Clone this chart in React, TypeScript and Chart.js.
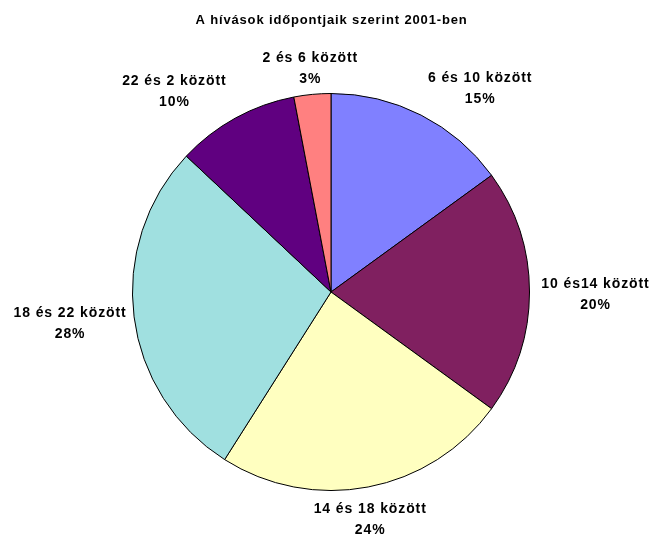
import React, { useEffect, useRef } from "react";
import { Chart, registerables } from "chart.js";

Chart.register(...registerables);

const TITLE = "A hívások időpontjaik szerint 2001-ben";
const categories = [
  "6 és 10 között",
  "10 és14 között",
  "14 és 18 között",
  "18 és 22 között",
  "22 és 2 között",
  "2 és 6 között",
];
const percentages = [15, 20, 24, 28, 10, 3];
const colors = ["#8080FF", "#802060", "#FFFFC0", "#A0E0E0", "#600080", "#FF8080"];
// label nudges relative to the outer point of each slice at its mid angle (layout only)
const labelNudges: [number, number][] = [
  [59, -26],
  [66, 3],
  [2, 33],
  [-64, 6.5],
  [-61, -26],
  [-2, -26],
];

const FAMILY = "'Liberation Sans', Arial, sans-serif";

const labelPlugin = {
  id: "excelLabels",
  afterDraw(chart: any) {
    const ctx = chart.ctx as CanvasRenderingContext2D;
    ctx.save();
    ctx.fillStyle = "#000";
    ctx.textAlign = "center";
    ctx.textBaseline = "middle";
    ctx.font = "bold 13px " + FAMILY;
    (ctx as any).letterSpacing = "0.85px";
    ctx.fillText(TITLE, chart.width / 2 + 7, 20);
    ctx.font = "bold 14px " + FAMILY;
    (ctx as any).letterSpacing = "0.9px";
    const meta = chart.getDatasetMeta(0);
    meta.data.forEach((arc: any, i: number) => {
      const p = arc.getProps(["x", "y", "startAngle", "endAngle", "outerRadius"], true);
      const mid = (p.startAngle + p.endAngle) / 2;
      const ox = p.x + Math.cos(mid) * p.outerRadius;
      const oy = p.y + Math.sin(mid) * p.outerRadius;
      const cx = ox + labelNudges[i][0];
      const cy = oy + labelNudges[i][1];
      ctx.fillText(categories[i], cx, cy - 10.5);
      ctx.fillText(percentages[i] + "%", cx, cy + 10.5);
    });
    ctx.restore();
  },
};

export default function App() {
  const ref = useRef<HTMLCanvasElement>(null);
  useEffect(() => {
    document.body.style.margin = "0";
    const chart = new Chart(ref.current!, {
      type: "pie",
      data: {
        labels: categories,
        datasets: [
          {
            data: percentages,
            backgroundColor: colors,
            borderColor: "#000000",
            borderWidth: 1,
            hoverOffset: 0,
          },
        ],
      },
      options: {
        responsive: false,
        animation: false,
        events: [],
        layout: { padding: { top: 93, bottom: 44, left: 132, right: 119 } },
        plugins: {
          legend: { display: false },
          title: { display: false },
          tooltip: { enabled: false },
        },
      },
      plugins: [labelPlugin],
    });
    return () => chart.destroy();
  }, []);
  return (
    <div style={{ width: 649, height: 535, background: "#fff" }}>
      <canvas ref={ref} width={649} height={535} style={{ display: "block" }} />
    </div>
  );
}
